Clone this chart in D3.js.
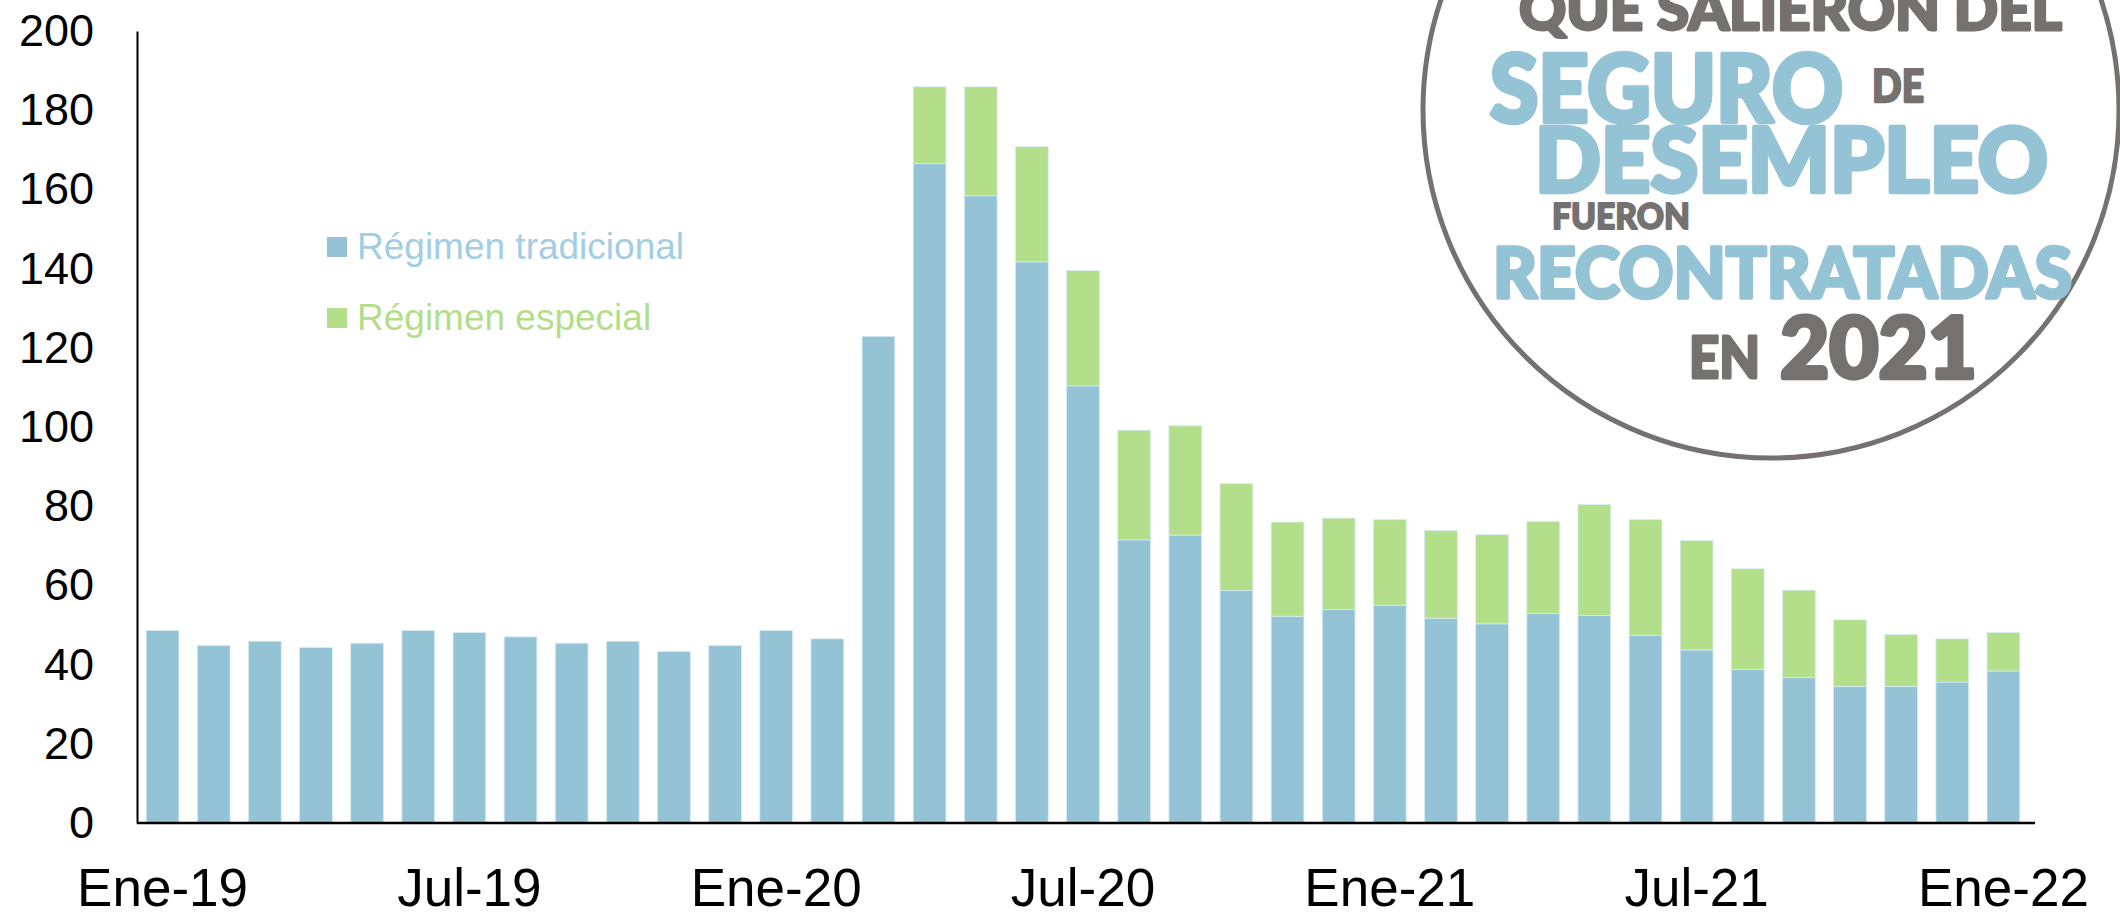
<!DOCTYPE html>
<html>
<head>
<meta charset="utf-8">
<script src="https://cdn.jsdelivr.net/npm/d3@7"></script>
<style>
  body { margin: 0; background: #fff; }
  svg { display: block; }
</style>
</head>
<body>
<div id="container"></div>
<script>
// data (thousands of people)
const months = [
  "Ene-19", "Feb-19", "Mar-19", "Abr-19", "May-19", "Jun-19", "Jul-19", "Ago-19", "Sep-19", "Oct-19", "Nov-19", "Dic-19",
  "Ene-20", "Feb-20", "Mar-20", "Abr-20", "May-20", "Jun-20", "Jul-20", "Ago-20", "Sep-20", "Oct-20", "Nov-20", "Dic-20",
  "Ene-21", "Feb-21", "Mar-21", "Abr-21", "May-21", "Jun-21", "Jul-21", "Ago-21", "Sep-21", "Oct-21", "Nov-21", "Dic-21",
  "Ene-22"
];
const tradicional = [
  48.6, 44.8, 45.9, 44.3, 45.4, 48.6, 48.1, 47.0, 45.4, 45.9, 43.3, 44.8,
  48.6, 46.5, 122.9, 166.5, 158.4, 141.7, 110.4, 71.5, 72.7, 58.7, 52.2, 53.9,
  55.0, 51.7, 50.3, 52.9, 52.4, 47.4, 43.7, 38.8, 36.7, 34.5, 34.5, 35.6,
  38.4
];
const especial = [
  0, 0, 0, 0, 0, 0, 0, 0, 0, 0, 0, 0,
  0, 0, 0, 19.4, 27.5, 29.1, 29.1, 27.7, 27.6, 27.0, 23.8, 23.1,
  21.6, 22.2, 22.5, 23.2, 28.0, 29.2, 27.6, 25.4, 22.1, 16.8, 13.1, 10.9,
  9.7
];
const seriesNames = ["Régimen tradicional", "Régimen especial"];
const yTicks = [0, 20, 40, 60, 80, 100, 120, 140, 160, 180, 200];
const xTickLabels = ["Ene-19", "Jul-19", "Ene-20", "Jul-20", "Ene-21", "Jul-21", "Ene-22"];

// set up
const width = 2120, height = 913;
const blue = "#93c3d5", green = "#b3df8a";
const font = "'Liberation Sans', Arial, sans-serif";

const svg = d3.select("div#container").append("svg")
  .attr("width", width).attr("height", height);

const x = d3.scaleBand(months, [137, 2029]).paddingInner(0.36).paddingOuter(0.18);
const y = d3.scaleLinear([0, 200], [823, 31]);
const color = d3.scaleOrdinal(seriesNames, [blue, green]);

const rows = months.map((m, i) => ({ month: m, [seriesNames[0]]: tradicional[i], [seriesNames[1]]: especial[i] }));
const stack = d3.stack().keys(seriesNames)(rows);

// bars
svg.append("g")
  .selectAll("g")
  .data(stack)
  .join("g")
  .attr("fill", d => color(d.key))
  .selectAll("rect")
  .data(d => d.filter(s => s[1] - s[0] > 0))
  .join("rect")
  .attr("x", d => x(d.data.month))
  .attr("y", d => y(d[1]))
  .attr("width", x.bandwidth())
  .attr("height", d => y(d[0]) - y(d[1]))
  .attr("stroke", "#d6ebf2")
  .attr("stroke-width", 0.8);

// y axis
const yAxis = svg.append("g")
  .attr("transform", "translate(137,0)")
  .call(d3.axisLeft(y).tickValues(yTicks).tickSize(0).tickPadding(43).tickSizeOuter(0));
yAxis.select(".domain").attr("stroke", "#000").attr("stroke-width", 2);
yAxis.selectAll("text")
  .attr("font-family", font)
  .attr("font-size", 45)
  .attr("fill", "#000");

// x axis
const xAxis = svg.append("g")
  .attr("transform", "translate(0,823)")
  .call(d3.axisBottom(x).tickValues(xTickLabels).tickSize(0));
xAxis.select(".domain").remove();
xAxis.append("line")
  .attr("x1", 137).attr("x2", x.range()[1] + 6)
  .attr("stroke", "#000").attr("stroke-width", 2.5);
xAxis.selectAll("text")
  .attr("y", 83)
  .attr("dy", 0)
  .attr("font-family", font)
  .attr("font-size", 53)
  .attr("fill", "#000");

// legend
const legendText = ["#a2cde3", "#b2de8a"];
const legend = svg.append("g")
  .selectAll("g")
  .data(seriesNames)
  .join("g")
  .attr("transform", (d, i) => `translate(327,${237 + i * 71})`);
legend.append("rect")
  .attr("width", 20).attr("height", 20)
  .attr("fill", d => color(d));
legend.append("text")
  .text(d => d)
  .attr("x", 30).attr("y", 22)
  .attr("font-family", font)
  .attr("font-size", 37)
  .attr("fill", (d, i) => legendText[i]);

// badge
const gray = "#767171";
const badge = svg.append("g");
badge.append("circle")
  .attr("cx", 1771).attr("cy", 110).attr("r", 348)
  .attr("fill", "#fff")
  .attr("stroke", gray)
  .attr("stroke-width", 5);

const badgeLines = [
  { t: "QUE SALIERON DEL", x: 1519, y: 30, w: 543, s: 58, c: gray },
  { t: "SEGURO", x: 1490, y: 122, w: 353, s: 93, c: blue },
  { t: "DE", x: 1872, y: 102, w: 52, s: 45, c: gray },
  { t: "DESEMPLEO", x: 1535, y: 192, w: 513, s: 89, c: blue },
  { t: "FUERON", x: 1552, y: 229, w: 138, s: 36, c: gray },
  { t: "RECONTRATADAS", x: 1493, y: 298, w: 579, s: 71, c: blue },
  { t: "EN", x: 1689, y: 378, w: 71, s: 57, c: gray },
  { t: "2021", x: 1780, y: 378, w: 197, s: 85, c: gray }
];
badge.selectAll("text")
  .data(badgeLines)
  .join("text")
  .text(d => d.t)
  .attr("x", d => d.x)
  .attr("y", d => d.y)
  .attr("textLength", d => d.w)
  .attr("lengthAdjust", "spacingAndGlyphs")
  .attr("font-family", "Lato, 'Open Sans', sans-serif")
  .attr("font-weight", 900)
  .attr("font-size", d => d.s)
  .attr("fill", d => d.c)
  .attr("stroke", d => d.c)
  .attr("stroke-width", d => d.s * 0.05)
  .attr("stroke-linejoin", "round");
</script>
</body>
</html>
